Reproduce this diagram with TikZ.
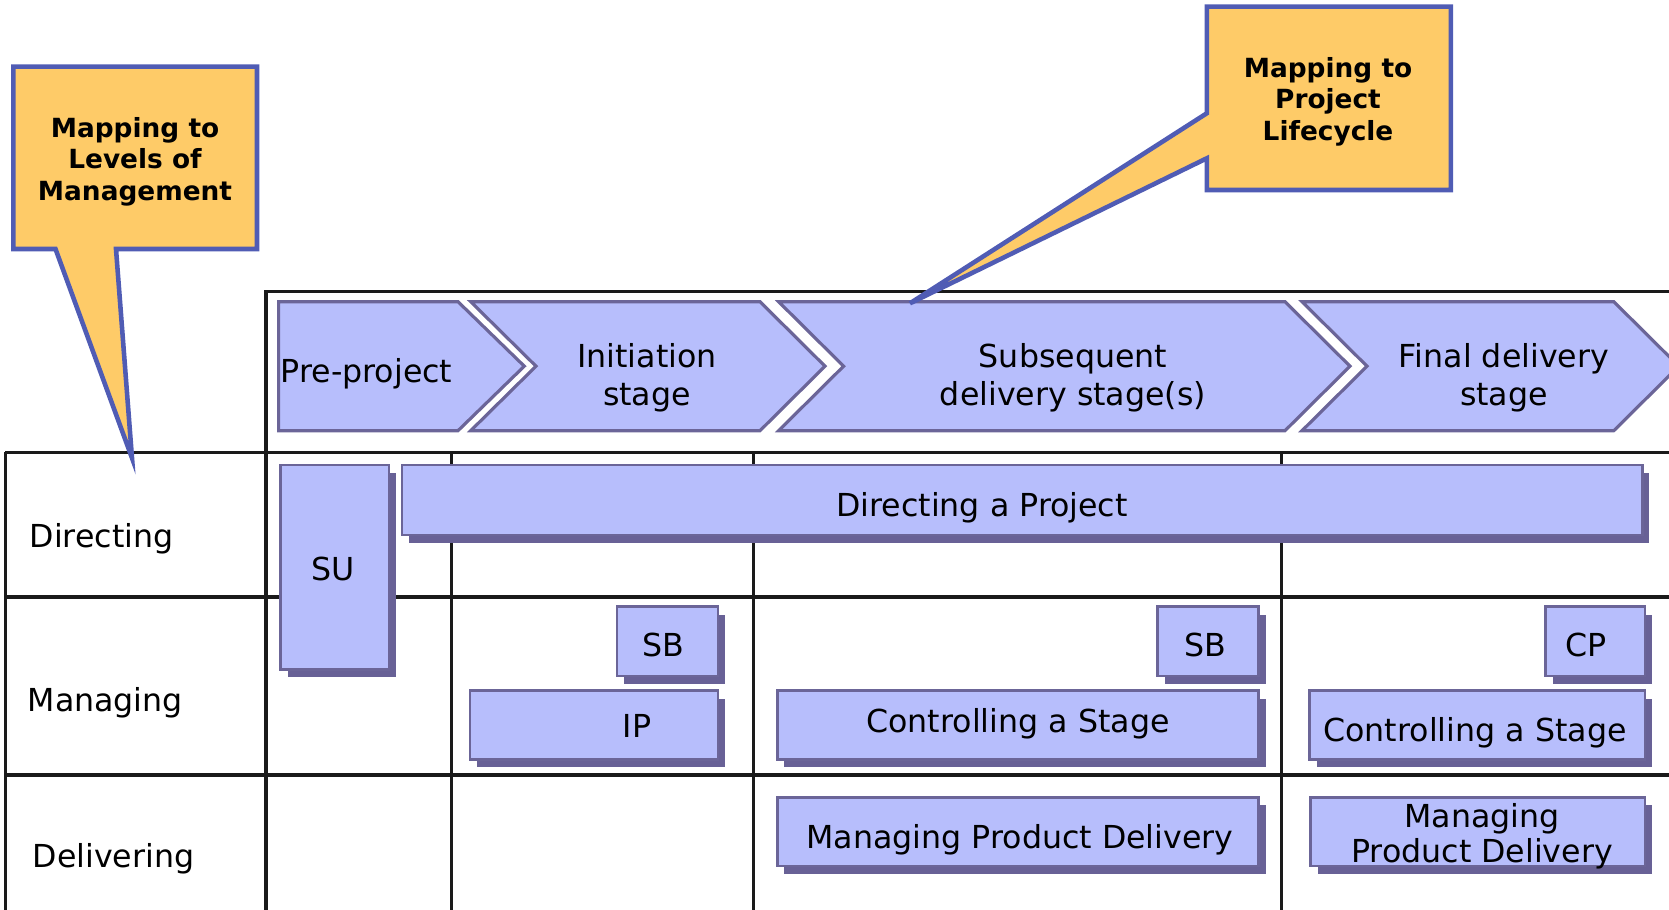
\documentclass[tikz,border=0pt]{standalone}
\usepackage{fontspec}
\setmainfont{DejaVu Sans}
\usetikzlibrary{shadows,fit}
\definecolor{boxfill}{RGB}{183,190,252}
\definecolor{boxedge}{RGB}{107,101,152}
\definecolor{boxshade}{RGB}{104,97,150}
\definecolor{notefill}{RGB}{254,203,104}
\definecolor{noteedge}{RGB}{80,92,180}
\definecolor{rulecol}{RGB}{26,26,26}
\tikzset{
	procbox/.style={draw=boxedge, fill=boxfill, line width=0.7pt, inner sep=0pt,
		drop shadow={fill=boxshade, opacity=1, shadow xshift=0.07cm, shadow yshift=-0.08cm}},
	stagechev/.style={draw=boxedge, fill=boxfill, line width=0.9pt, line join=miter},
	callout/.style={draw=noteedge, fill=notefill, line width=1.3pt, line join=miter},
	rowline/.style={draw=rulecol, line width=1pt},
	boxtext/.style={font=\fontsize{9}{11}\selectfont, inner sep=0pt},
	notetext/.style={font=\fontsize{7.5}{9}\selectfont\bfseries, align=center, inner sep=0pt}
}
\begin{document}
\begin{tikzpicture}[x=0.01cm, y=-0.01cm]
	\path[use as bounding box, clip] (0,0) rectangle (1669,910);
	% table
	\draw[rowline] (266,910) -- (266,291.6) -- (1669,291.6);
	\draw[rowline] (5.3,452.4) -- (1669,452.4);
	\draw[rowline] (5.3,597) -- (1669,597);
	\draw[rowline] (5.3,775) -- (1669,775);
	\draw[rowline] (5.3,452.4) -- (5.3,910);
	\draw[rowline] (451.3,452.4) -- (451.3,910);
	\draw[rowline] (753.6,452.4) -- (753.6,910);
	\draw[rowline] (1281.6,452.4) -- (1281.6,910);
	\node[boxtext, anchor=base west] (dirlvl) at (29,548) {Directing};
	\node[boxtext, anchor=base west] (manlvl) at (27,711.7) {Managing};
	\node[boxtext, anchor=base west] (dellvl) at (32,868) {Delivering};
	% lifecycle
	\draw[stagechev] (278.6,301.7) -- (458,301.7) -- (524.3,366.2) -- (458,430.7) -- (278.6,430.7) -- cycle;
	\draw[stagechev] (470.7,301.7) -- (760,301.7) -- (825,366.2) -- (760,430.7) -- (470.7,430.7) -- (536,366.2) -- cycle;
	\draw[stagechev] (778.6,301.7) -- (1285,301.7) -- (1350,366.2) -- (1285,430.7) -- (778.6,430.7) -- (843.6,366.2) -- cycle;
	\draw[stagechev] (1302,301.7) -- (1613.8,301.7) -- (1678.8,366.2) -- (1613.8,430.7) -- (1302,430.7) -- (1367,366.2) -- cycle;
	\node[boxtext, anchor=base west] (pre) at (280,383) {Pre-project};
	\node[boxtext, align=center] (init) at (647,377.8) {Initiation\\stage};
	\node[boxtext, align=center] (subs) at (1073,377.8) {Subsequent\\delivery stage(s)};
	\node[boxtext, align=center] (final) at (1504,377.8) {Final delivery\\stage};
	% processes
	\node[procbox, fit={(280.6,465) (388.8,669.3)}] (SU) {};
	\node[procbox, fit={(402,465) (1642.3,535)}] (DP) {};
	\node[procbox, fit={(617,606.7) (718,676)}] (SBa) {};
	\node[procbox, fit={(470,690.7) (718,759.3)}] (IP) {};
	\node[procbox, fit={(1157.7,606.7) (1258.6,676)}] (SBb) {};
	\node[procbox, fit={(1545.5,606.7) (1645,676)}] (CP) {};
	\node[procbox, fit={(777.4,690.7) (1258.6,759.3)}] (CSa) {};
	\node[procbox, fit={(1309.6,690.7) (1645,759.3)}] (CSb) {};
	\node[procbox, fit={(777.4,797.3) (1258.6,866)}] (MPa) {};
	\node[procbox, fit={(1310.7,797.3) (1645,866)}] (MPb) {};
	\node[boxtext, anchor=base] (SUt) at (333,581) {SU};
	\node[boxtext, anchor=base] (DPt) at (982,517) {Directing a Project};
	\node[boxtext, anchor=base] (SBat) at (663,657) {SB};
	\node[boxtext, anchor=base] (IPt) at (637,738) {IP};
	\node[boxtext, anchor=base] (SBbt) at (1205,657) {SB};
	\node[boxtext, anchor=base] (CPt) at (1586,657) {CP};
	\node[boxtext, anchor=base] (CSat) at (1018,733) {Controlling a Stage};
	\node[boxtext, anchor=base] (CSbt) at (1475,742) {Controlling a Stage};
	\node[boxtext, anchor=base] (MPat) at (1020,849) {Managing Product Delivery};
	\node[boxtext, align=center, font=\fontsize{9}{10}\selectfont] (MPbt) at (1482,836) {Managing\\Product Delivery};
	% callouts
	\draw[callout] (13.4,66.7) -- (257,66.7) -- (257,249) -- (116,249) -- (132,458) -- (55.5,249) -- (13.4,249) -- cycle;
	\node[notetext] (levels) at (135,161.5) {Mapping to\\Levels of\\Management};
	\draw[callout] (1206.8,6.7) -- (1450.8,6.7) -- (1450.8,190) -- (1206.8,190) -- (1206.8,158.3) -- (910,303.3) -- (1206.8,113.3) -- cycle;
	\node[notetext] (cycle) at (1328,101.5) {Mapping to\\Project\\Lifecycle};
\end{tikzpicture}
\end{document}
